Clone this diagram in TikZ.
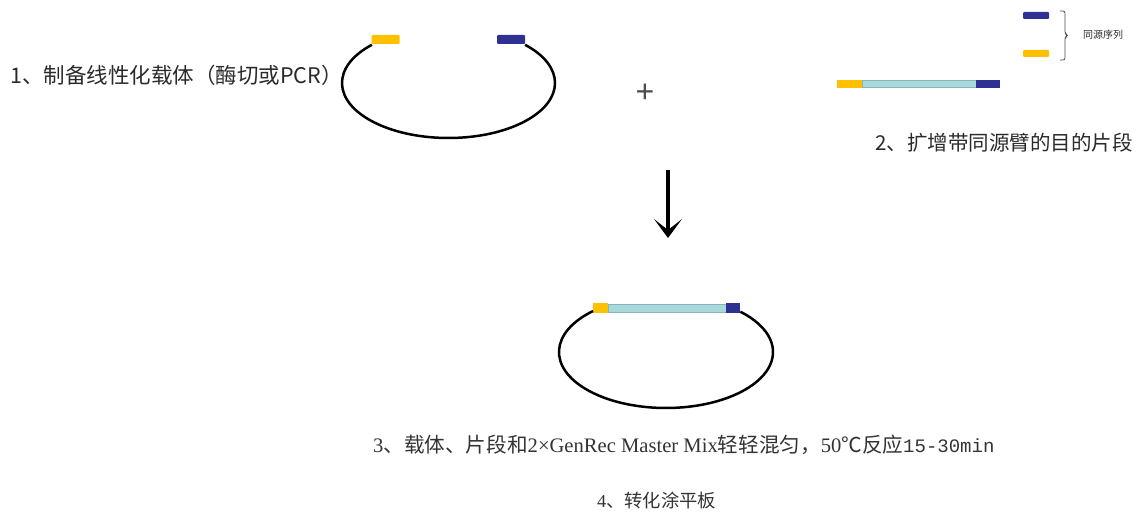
\documentclass[tikz,border=0pt]{standalone}
\usepackage{fontspec}
\setmainfont{Liberation Serif}
\newfontfamily\cjk{Noto Sans CJK SC}
\newfontfamily\lsans{Liberation Sans}
\newfontfamily\lmono{Liberation Mono}
\usetikzlibrary{arrows.meta}
\definecolor{armY}{HTML}{FFC000}
\definecolor{armB}{HTML}{2E3192}
\definecolor{insF}{HTML}{A9D8DC}
\definecolor{insD}{HTML}{86B4BA}
\definecolor{txt}{HTML}{2A2A2A}
\tikzset{
  ybar/.style={fill=armY,draw=none,rounded corners=1pt,inner sep=0pt},
  bbar/.style={fill=armB,draw=none,rounded corners=1pt,inner sep=0pt},
  ibar/.style={fill=insF,draw=insD,line width=0.6pt,inner sep=0pt},
  ring/.style={line width=2.5pt,black},
  lab/.style={inner sep=0pt,text=txt},
}
\begin{document}
\begin{tikzpicture}[x=1pt,y=-1pt]
\useasboundingbox (0,0) rectangle (1141,513);
% ---- step 1 : linearised vector
\node[lab,anchor=west,font=\cjk\fontsize{21.5}{24}\selectfont] (t1) at (10,75) {1、制备线性化载体（酶切或PCR）};
\coordinate (c1) at (448.5,83);
\node[ybar,minimum width=28pt,minimum height=9pt] (y1) at (385.5,39.5) {};
\node[bbar,minimum width=28pt,minimum height=9pt] (b1) at (511,39.5) {};
\draw[ring] ([shift={(136:106.5pt and 55pt)}]c1) arc[start angle=136,end angle=404,x radius=106.5pt,y radius=55pt];
% ---- plus
\node[lab,text=black!70,font=\lsans\fontsize{32}{32}\selectfont] (plus) at (645,93) {+};
% ---- homology arms legend
\node[bbar,minimum width=26pt,minimum height=7pt] (lb) at (1036,15.5) {};
\node[ybar,minimum width=26pt,minimum height=7pt] (ly) at (1036,53.5) {};
\coordinate (br1) at (1060,11);
\coordinate (br2) at (1060,60);
\draw[line width=0.8pt,black!70,rounded corners=2pt] (br1) -- (1065,11) -- (1065,34) -- (1068,35.5) -- (1065,37) -- (1065,60) -- (br2);
\node[lab,anchor=west,font=\cjk\fontsize{10}{12}\selectfont] (hl) at (1083,35) {同源序列};
% ---- fragment with arms
\node[ibar,minimum width=114pt,minimum height=7pt] (fi) at (919,84) {};
\node[ybar,minimum width=25pt,minimum height=8pt,rounded corners=0pt] (fy) at (849.5,84) {};
\node[bbar,minimum width=24pt,minimum height=8pt,rounded corners=0pt] (fb) at (988,84) {};
\node[lab,anchor=east,font=\cjk\fontsize{20.5}{24}\selectfont] (t2) at (1133,143) {2、扩增带同源臂的目的片段};
% ---- arrow
\coordinate (a1) at (668,170);
\coordinate (a2) at (668,238);
\draw[line width=3.5pt,-{Stealth[length=19pt,width=28pt,inset=11pt]}] (a1) -- (a2);
% ---- recombined plasmid
\coordinate (c2) at (666,352);
\node[ibar,minimum width=118pt,minimum height=8pt] (ri) at (667,308) {};
\node[ybar,minimum width=15pt,minimum height=10pt,rounded corners=0pt] (ry) at (600.5,308) {};
\node[bbar,minimum width=14pt,minimum height=10pt,rounded corners=0pt] (rb) at (733,308) {};
\draw[ring] ([shift={(133:107pt and 56pt)}]c2) arc[start angle=133,end angle=406,x radius=107pt,y radius=56pt];
% ---- step 3 and 4
\node[lab,anchor=west,text=black!80,font=\fontsize{20.6}{24}\selectfont] (t3) at (373,445)
  {3{\cjk 、载体、片段和}2×GenRec Master Mix{\cjk 轻轻混匀，}50{\cjk ℃反应}{\lmono\fontsize{19}{24}\selectfont 15-30min}};
\node[lab,anchor=west,text=black!80,font=\fontsize{18.3}{22}\selectfont] (t4) at (597,500) {4{\cjk 、转化涂平板}};
\end{tikzpicture}
\end{document}
